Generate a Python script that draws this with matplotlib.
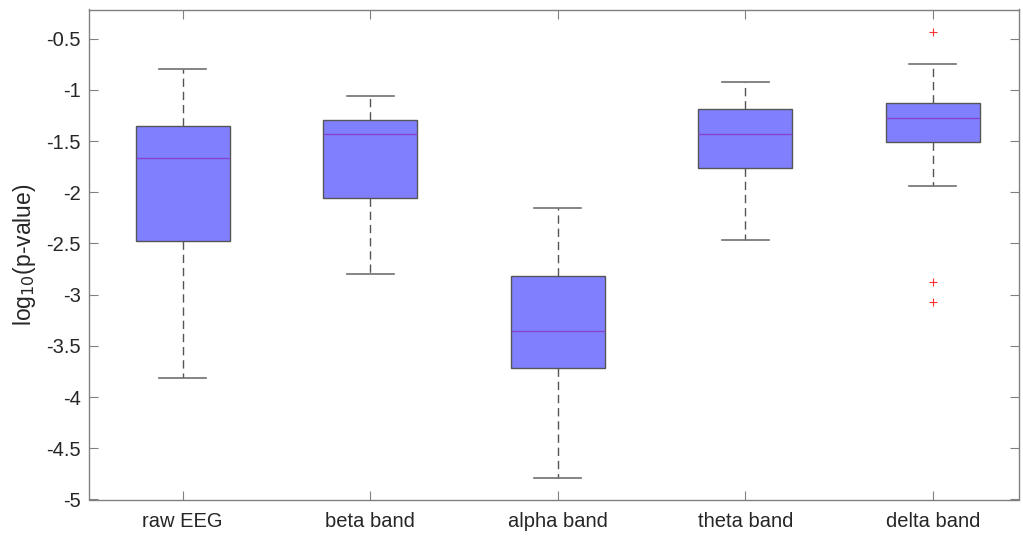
import matplotlib
matplotlib.use("Agg")
import matplotlib.pyplot as plt

plt.rcParams['font.family'] = ['Liberation Sans', 'DejaVu Sans']

# Box statistics of log10(p-value) per signal band
bands = ["raw EEG", "beta band", "alpha band", "theta band", "delta band"]
whisker_low = [-3.81, -2.80, -4.79, -2.47, -1.94]
q1 = [-2.48, -2.06, -3.72, -1.76, -1.51]
medians = [-1.67, -1.43, -3.35, -1.43, -1.27]
q3 = [-1.35, -1.29, -2.82, -1.19, -1.13]
whisker_high = [-0.80, -1.06, -2.15, -0.92, -0.75]
outliers = [[], [], [], [], [-0.43, -2.88, -3.07]]

stats = []
for i, name in enumerate(bands):
    stats.append(dict(label=name, whislo=whisker_low[i], q1=q1[i], med=medians[i],
                      q3=q3[i], whishi=whisker_high[i], fliers=outliers[i]))

fig = plt.figure(figsize=(10.23, 5.36), dpi=100)
ax = fig.add_axes([89 / 1023, 36.5 / 536, 930 / 1023, 490 / 536])

edge = '#555555'
ax.bxp(stats, positions=range(1, 6), widths=0.5, patch_artist=True,
       boxprops=dict(facecolor='#8080FF', edgecolor=edge, linewidth=1.0),
       medianprops=dict(color='#8444CC', linewidth=1.0),
       whiskerprops=dict(color=edge, linewidth=1.0, linestyle=(0, (6, 3.5))),
       capprops=dict(color='#707070', linewidth=1.2),
       capwidths=0.25,
       flierprops=dict(marker='+', markeredgecolor='#FF3030', markersize=6,
                       markeredgewidth=0.8, linestyle='none'))

ax.set_xlim(0.5, 5.46)
ax.set_ylim(-5, -0.215)
ax.set_yticks([-5, -4.5, -4, -3.5, -3, -2.5, -2, -1.5, -1, -0.5])
ax.set_yticklabels(['-5', '-4.5', '-4', '-3.5', '-3', '-2.5', '-2', '-1.5', '-1', '-0.5'])
ax.set_xticks(range(1, 6))
ax.set_xticklabels(bands)

for s in ax.spines.values():
    s.set_color('#808080')
    s.set_linewidth(1.0)
ax.tick_params(direction='in', length=6.5, width=0.8, color='#808080',
               labelsize=14.5, labelcolor='#262626', top=True, right=True)
ax.tick_params(axis='x', pad=9)
ax.tick_params(axis='y', pad=6)
ax.set_ylabel('log$_{10}$(p-value)', fontsize=16.5, color='#262626', labelpad=6)

fig.savefig('out.png', dpi=100)
